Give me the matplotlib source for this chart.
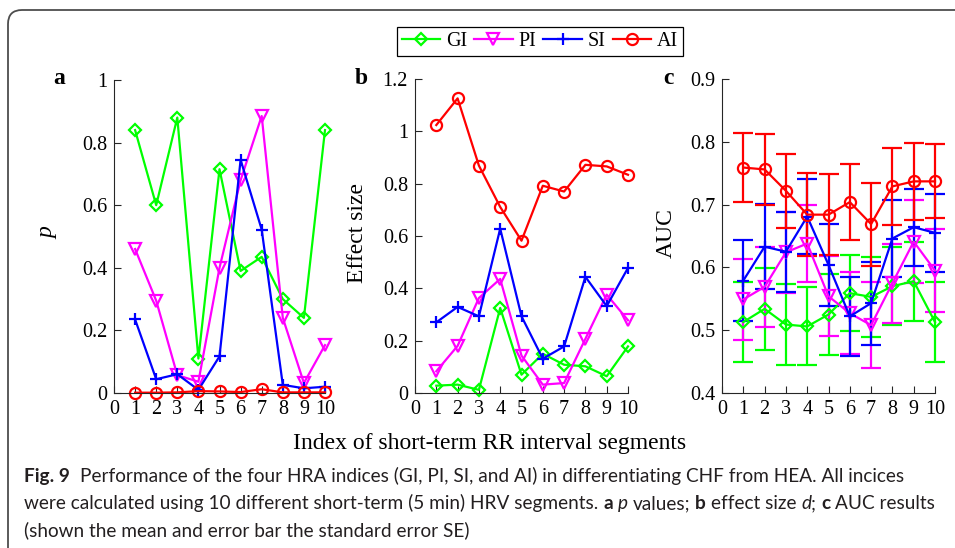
#!/usr/bin/env python3
"""Fig. 9: performance of the four HRA indices (p, effect size, AUC) over 10 segments."""
import matplotlib
matplotlib.use("Agg")
import matplotlib.pyplot as plt
from matplotlib.path import Path
from matplotlib.patches import PathPatch
from matplotlib.ticker import FuncFormatter

W, H = 955, 548

SEG = list(range(1, 11))
NAMES = ["GI", "PI", "SI", "AI"]

# panel a: p values
P_GI = [0.84, 0.60, 0.88, 0.11, 0.715, 0.39, 0.435, 0.30, 0.24, 0.84]
P_PI = [0.46, 0.295, 0.057, 0.036, 0.40, 0.68, 0.885, 0.24, 0.032, 0.153]
P_SI = [0.235, 0.044, 0.06, 0.01, 0.117, 0.745, 0.522, 0.026, 0.015, 0.02]
P_AI = [0.001, 0.001, 0.002, 0.006, 0.005, 0.003, 0.012, 0.002, 0.002, 0.002]

# panel b: effect size d
D_GI = [0.028, 0.032, 0.012, 0.325, 0.07, 0.15, 0.108, 0.102, 0.064, 0.178]
D_PI = [0.083, 0.18, 0.363, 0.436, 0.143, 0.032, 0.038, 0.207, 0.376, 0.278]
D_SI = [0.27, 0.329, 0.293, 0.628, 0.293, 0.131, 0.178, 0.444, 0.332, 0.478]
D_AI = [1.024, 1.126, 0.869, 0.711, 0.582, 0.792, 0.770, 0.872, 0.866, 0.834]

# panel c: AUC mean and standard error
A_GI = [0.513, 0.534, 0.509, 0.506, 0.525, 0.559, 0.553, 0.570, 0.578, 0.513]
E_GI = [0.063, 0.065, 0.064, 0.062, 0.065, 0.061, 0.064, 0.062, 0.063, 0.063]
A_PI = [0.549, 0.569, 0.624, 0.638, 0.554, 0.527, 0.508, 0.575, 0.641, 0.595]
E_PI = [0.065, 0.064, 0.065, 0.061, 0.064, 0.065, 0.068, 0.063, 0.066, 0.066]
A_SI = [0.579, 0.633, 0.625, 0.681, 0.604, 0.522, 0.543, 0.646, 0.664, 0.655]
E_SI = [0.065, 0.068, 0.064, 0.060, 0.065, 0.063, 0.066, 0.061, 0.061, 0.062]
A_AI = [0.759, 0.756, 0.722, 0.684, 0.684, 0.704, 0.669, 0.729, 0.737, 0.737]
E_AI = [0.055, 0.057, 0.059, 0.066, 0.065, 0.060, 0.066, 0.061, 0.061, 0.059]

COLORS = {"GI": "#00ff00", "PI": "#ff00ff", "SI": "#0000ff", "AI": "#ff0000"}
MARKERS = {"GI": ("D", 6.0), "PI": ("v", 8.5), "SI": ("+", 9.0), "AI": ("o", 8.0)}

SERIF = ["Liberation Serif", "DejaVu Serif"]
CAP_FONT = ["Lato", "DejaVu Sans"]
LW = 1.6
TICK_FS = 14.5
LABEL_FS = 17

plt.rcParams.update({
    "font.family": "serif",
    "font.serif": SERIF,
    "axes.linewidth": 0.8,
})


def px_box(x0, x1, y_top, y_bot):
    return [x0 / W, 1 - y_bot / H, (x1 - x0) / W, (y_bot - y_top) / H]


def style_axis(ax, ylim, yticks):
    ax.set_xlim(0, 10)
    ax.set_ylim(*ylim)
    ax.set_xticks(range(0, 11))
    ax.set_yticks(yticks)
    ax.yaxis.set_major_formatter(FuncFormatter(lambda v, _: f"{v:g}"))
    for s in ("top", "right"):
        ax.spines[s].set_visible(False)
    for s in ("left", "bottom"):
        ax.spines[s].set_color("#262626")
    ax.tick_params(direction="in", length=5, width=0.8, colors="#262626",
                   labelsize=TICK_FS, labelcolor="black", pad=5)
    ax.patch.set_alpha(0)


def line_kw(name):
    m, ms = MARKERS[name]
    return dict(color=COLORS[name], lw=LW, marker=m, ms=ms, mew=LW,
                mfc="none", mec=COLORS[name], clip_on=False, label=name)


fig = plt.figure(figsize=(W / 100, H / 100), dpi=100)

# outer caption frame: rounded top-left corner only
r = 14
verts = [(8, H + 5), (8, 10 + r), (8, 10), (8 + r, 10), (W + 5, 10)]
verts = [(x / W, 1 - y / H) for x, y in verts]
codes = [Path.MOVETO, Path.LINETO, Path.CURVE3, Path.CURVE3, Path.LINETO]
fig.patches.append(PathPatch(Path(verts, codes), transform=fig.transFigure,
                             fill=False, edgecolor="#4d4d4d", lw=1.3))

ax_a = fig.add_axes(px_box(114, 325, 80, 393))
ax_b = fig.add_axes(px_box(415, 628, 79, 393))
ax_c = fig.add_axes(px_box(722, 935, 79, 393))

handles = []
for name, vals in zip(NAMES, [P_GI, P_PI, P_SI, P_AI]):
    h, = ax_a.plot(SEG, vals, **line_kw(name))
    handles.append(h)
style_axis(ax_a, (0, 1), [0, 0.2, 0.4, 0.6, 0.8, 1])

for name, vals in zip(NAMES, [D_GI, D_PI, D_SI, D_AI]):
    ax_b.plot(SEG, vals, **line_kw(name))
style_axis(ax_b, (0, 1.2), [0, 0.2, 0.4, 0.6, 0.8, 1, 1.2])

for name, vals, errs in zip(NAMES, [A_GI, A_PI, A_SI, A_AI], [E_GI, E_PI, E_SI, E_AI]):
    ax_c.errorbar(SEG, vals, yerr=errs, capsize=7, capthick=LW, elinewidth=LW,
                  ecolor=COLORS[name], **line_kw(name))
style_axis(ax_c, (0.4, 0.9), [0.4, 0.5, 0.6, 0.7, 0.8, 0.9])

# panel letters and y labels
for x, s in [(59, "a"), (361, "b"), (668, "c")]:
    fig.text(x / W, 1 - 79 / H, s, fontsize=LABEL_FS, fontweight="bold",
             ha="center", va="center")
fig.text(48 / W, 1 - 233 / H, "p", fontsize=LABEL_FS, style="italic",
         rotation=90, ha="center", va="center")
fig.text(357 / W, 1 - 233 / H, "Effect size", fontsize=LABEL_FS,
         rotation=90, ha="center", va="center")
fig.text(666 / W, 1 - 233 / H, "AUC", fontsize=LABEL_FS,
         rotation=90, ha="center", va="center")
fig.text(490 / W, 1 - 444 / H, "Index of short-term RR interval segments",
         fontsize=LABEL_FS, ha="center", va="center")

leg = fig.legend(handles, NAMES, loc="center", ncol=4,
                 bbox_to_anchor=(540 / W, 1 - 41.5 / H), fontsize=TICK_FS,
                 frameon=True, fancybox=False, edgecolor="black", framealpha=1,
                 handlelength=1.9, handletextpad=0.3, columnspacing=0.35,
                 borderpad=0.25, borderaxespad=0)
leg.get_frame().set_linewidth(0.9)

# caption with mixed bold / italic runs
CAP_FS = 13.7
CAP_COLOR = "#231f20"
renderer = fig.canvas.get_renderer()


def text_width(s, **kw):
    t = fig.text(0, 0, s, fontsize=CAP_FS, family=CAP_FONT, **kw)
    w = t.get_window_extent(renderer).width
    t.remove()
    return w


SPACE = text_width("a a") - text_width("aa")


def caption_line(x, y, runs):
    for s, weight, style in runs:
        lead = len(s) - len(s.lstrip(" "))
        trail = len(s) - len(s.rstrip(" "))
        x += lead * SPACE
        core = s.strip(" ")
        t = fig.text(x / W, 1 - y / H, core, fontsize=CAP_FS, family=CAP_FONT,
                     fontweight=weight, style=style, color=CAP_COLOR,
                     ha="left", va="baseline")
        x += t.get_window_extent(renderer).width + trail * SPACE


N, B, I = "normal", "bold", "italic"
caption_line(24, 482, [
    ("Fig. 9", B, N),
    ("  Performance of the four HRA indices (GI, PI, SI, and AI) in "
     "differentiating CHF from HEA. All incices", N, N),
])
caption_line(24, 509, [
    ("were calculated using 10 different short-term (5 min) HRV segments. ", N, N),
    ("a ", B, N), ("p", N, I), (" values; ", N, N),
    ("b ", B, N), ("effect size ", N, N), ("d", N, I), ("; ", N, N),
    ("c ", B, N), ("AUC results", N, N),
])
caption_line(24, 536, [
    ("(shown the mean and error bar the standard error SE)", N, N),
])

fig.savefig("out.png", dpi=100)
